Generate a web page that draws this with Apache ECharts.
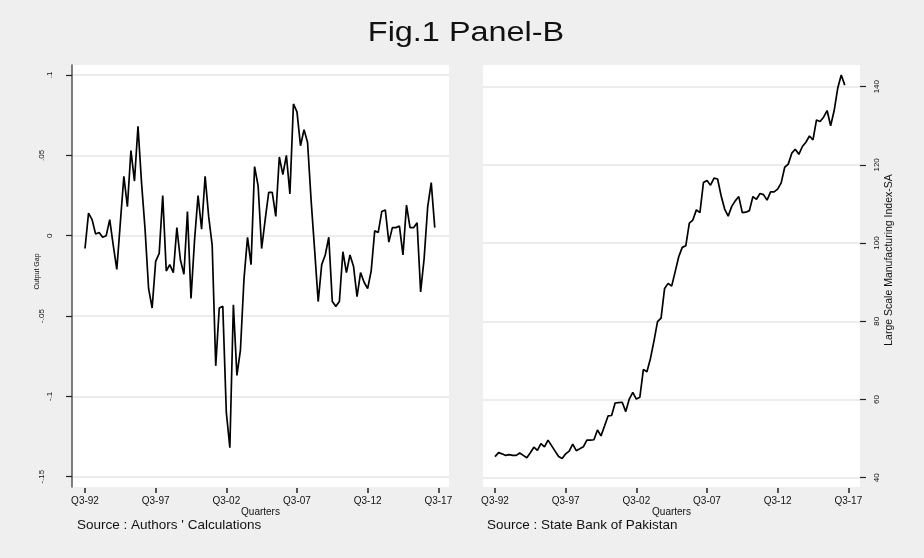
<!DOCTYPE html>
<html><head><meta charset="utf-8">
<script src="https://cdn.jsdelivr.net/npm/echarts@6/dist/echarts.min.js"></script>
<style>html,body{margin:0;padding:0;background:#efefef}#c{width:924px;height:558px}</style>
</head><body><div id="c"></div>
<script>
// Output gap, quarterly Q3-92 .. Q2-17
const outputGap = [
 -0.008, 0.014, 0.010, 0.001, 0.002, -0.001, 0.000, 0.010, -0.006, -0.021,
  0.008, 0.037, 0.018, 0.053, 0.034, 0.068, 0.033, 0.004, -0.033, -0.045,
 -0.016, -0.011, 0.025, -0.022, -0.018, -0.023, 0.005, -0.015, -0.024, 0.015,
 -0.039, -0.003, 0.025, 0.004, 0.037, 0.012, -0.006, -0.081, -0.045, -0.044,
 -0.110, -0.132, -0.043, -0.087, -0.071, -0.027, -0.001, -0.018, 0.043, 0.031,
 -0.008, 0.010, 0.027, 0.027, 0.012, 0.049, 0.038, 0.050, 0.026, 0.082,
  0.077, 0.056, 0.066, 0.058, 0.022, -0.009, -0.041, -0.018, -0.012, -0.001,
 -0.041, -0.044, -0.041, -0.010, -0.023, -0.012, -0.019, -0.038, -0.023, -0.029,
 -0.033, -0.022, 0.003, 0.002, 0.015, 0.016, -0.004, 0.005, 0.005, 0.006,
 -0.012, 0.019, 0.005, 0.005, 0.008, -0.035, -0.014, 0.018, 0.033, 0.005
];
// Large Scale Manufacturing Index (SA), quarterly Q3-92 .. Q2-17
const lsmIndex = [
 45.4, 46.4, 46.1, 45.7, 45.9, 45.7, 45.7, 46.3, 45.7, 45.1,
 46.4, 47.8, 47.0, 48.7, 47.9, 49.6, 48.2, 46.8, 45.4, 44.9,
 46.1, 46.8, 48.6, 46.9, 47.4, 47.9, 49.6, 49.6, 49.7, 52.2,
 50.7, 53.2, 55.8, 55.9, 59.1, 59.2, 59.3, 56.9, 60.1, 61.8,
 60.1, 60.6, 67.7, 67.1, 70.5, 75.0, 79.9, 80.8, 88.4, 89.7,
 89.0, 92.7, 96.5, 98.9, 99.3, 105.1, 105.9, 108.5, 107.8, 115.5,
 116.0, 114.8, 116.6, 116.4, 112.1, 108.7, 106.9, 109.4, 110.8, 111.9,
 107.8, 107.9, 108.3, 111.9, 111.2, 112.7, 112.4, 111.0, 113.1, 113.1,
 113.8, 115.4, 119.4, 120.2, 123.0, 124.0, 122.7, 124.7, 125.8, 127.4,
 126.4, 131.5, 131.1, 132.2, 133.9, 130.0, 133.9, 139.6, 143.0, 140.4
];
const xTickIndex = [0, 20, 40, 60, 80, 100];
const xTickLabels = ['Q3-92', 'Q3-97', 'Q3-02', 'Q3-07', 'Q3-12', 'Q3-17'];
const gapTicks = [0.1, 0.05, 0, -0.05, -0.1, -0.15];
const gapTickLabels = ['.1', '.05', '0', '-.05', '-.1', '-.15'];
const gapTicksA = [0.1, 0, -0.1];
const gapTicksB = [0.05, -0.05, -0.15];
const lsmTicks = [40, 60, 80, 100, 120, 140];

const FONT = "'Liberation Sans', Arial, sans-serif";
const chart = echarts.init(document.getElementById('c'), null, {renderer: 'canvas'});

function gapLabel(v) {
  const k = gapTicks.findIndex(t => Math.abs(t - v) < 1e-9);
  return k >= 0 ? gapTickLabels[k] : '';
}
function xLabel(v) {
  const k = xTickIndex.indexOf(Math.round(v));
  return k >= 0 ? xTickLabels[k] : '';
}

const xAxisCommon = {
  type: 'value',
  offset: 1,
  axisLine: {show: false, onZero: false},
  axisTick: {show: true, customValues: xTickIndex, length: 5, lineStyle: {color: '#222', width: 1.5}},
  axisLabel: {show: true, customValues: xTickIndex, margin: 8, fontSize: 10, color: '#111', fontFamily: FONT, formatter: xLabel},
  splitLine: {show: false},
  name: 'Quarters', nameLocation: 'middle', nameGap: 19, nameMoveOverlap: false,
  nameTextStyle: {fontSize: 10, color: '#111', fontFamily: FONT}
};

const option = {
  animation: false,
  backgroundColor: '#efefef',
  grid: [
    {left: 72, right: 475, top: 65, bottom: 71, show: true, backgroundColor: '#ffffff', borderWidth: 0},
    {left: 483, right: 64, top: 65, bottom: 71, show: true, backgroundColor: '#ffffff', borderWidth: 0}
  ],
  xAxis: [
    Object.assign({}, xAxisCommon, {gridIndex: 0, min: -3.68, max: 103.03}),
    Object.assign({}, xAxisCommon, {gridIndex: 1, min: -3.40, max: 103.31})
  ],
  yAxis: [
    {
      type: 'value', gridIndex: 0, position: 'left', min: -0.15641, max: 0.10622,
      axisLine: {show: true, onZero: false, lineStyle: {color: '#555', width: 1.5}},
      axisTick: {show: true, customValues: gapTicks, length: 6, lineStyle: {color: '#222', width: 1.2}},
      axisLabel: {show: true, customValues: gapTicksA, rotate: 90, margin: 18, fontSize: 8, color: '#111', fontFamily: FONT, formatter: gapLabel},
      splitLine: {show: true, lineStyle: {color: '#e6e6e6', width: 1.5}}
    },
    {
      type: 'value', gridIndex: 0, position: 'left', min: -0.15641, max: 0.10622,
      axisLine: {show: false, onZero: false},
      axisTick: {show: false},
      axisLabel: {show: true, customValues: gapTicksB, rotate: 90, margin: 26, fontSize: 8, color: '#111', fontFamily: FONT, formatter: gapLabel},
      splitLine: {show: false},
      name: 'Output Gap', nameLocation: 'middle', nameGap: 31, nameRotate: 90, nameMoveOverlap: false,
      nameTextStyle: {fontSize: 7, color: '#111', fontFamily: FONT, padding: [0, 0, 0, 9]}
    },
    {
      type: 'value', gridIndex: 1, position: 'right', min: 37.62, max: 145.55,
      axisLine: {show: false, onZero: false},
      axisTick: {show: true, customValues: lsmTicks, length: 6, lineStyle: {color: '#222', width: 1.2}},
      axisLabel: {show: true, customValues: lsmTicks, rotate: 90, margin: 13, fontSize: 8, color: '#111', fontFamily: FONT},
      splitLine: {show: true, lineStyle: {color: '#e6e6e6', width: 1.5}},
      name: 'Large Scale Manufacturing Index-SA', nameLocation: 'middle', nameGap: 24, nameRotate: 90, nameMoveOverlap: false,
      nameTextStyle: {fontSize: 10.5, color: '#111', fontFamily: FONT, padding: [0, 0, 0, 32]}
    }
  ],
  series: [
    {
      type: 'line', xAxisIndex: 0, yAxisIndex: 0, showSymbol: false, symbol: 'none',
      lineStyle: {color: '#000', width: 1.7},
      data: outputGap.map((v, i) => [i, v])
    },
    {
      type: 'line', xAxisIndex: 1, yAxisIndex: 2, showSymbol: false, symbol: 'none',
      lineStyle: {color: '#000', width: 1.7},
      data: lsmIndex.map((v, i) => [i, v])
    }
  ],
  graphic: [
    {type: 'text', x: 466, y: 34, scaleX: 1.2, style: {text: 'Fig.1 Panel-B', fontSize: 27, fontFamily: FONT, fill: '#111', textAlign: 'center', textVerticalAlign: 'middle'}},
    {type: 'text', x: 77, y: 525, style: {text: "Source : Authors ' Calculations", fontSize: 13.5, fontFamily: FONT, fill: '#111', textVerticalAlign: 'middle'}},
    {type: 'text', x: 487, y: 525, style: {text: 'Source : State Bank of Pakistan', fontSize: 13.5, fontFamily: FONT, fill: '#111', textVerticalAlign: 'middle'}}
  ]
};
chart.setOption(option);
</script>
</body></html>
